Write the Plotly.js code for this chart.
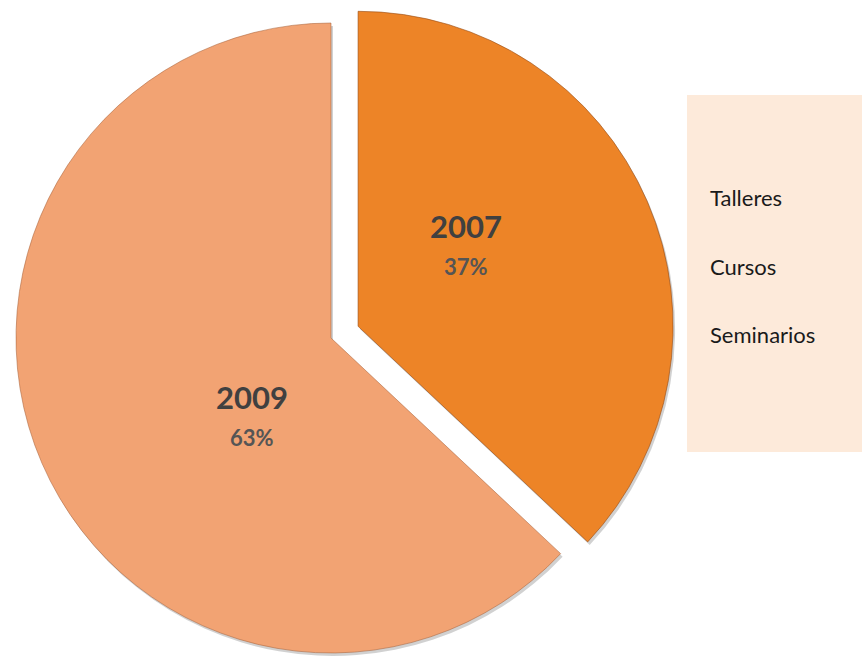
<!DOCTYPE html>
<html>
<head>
<meta charset="utf-8">
<script src="https://cdn.plot.ly/plotly-3.0.1.min.js"></script>
<style>html,body{margin:0;padding:0;background:#fff;}#chart{width:862px;height:656px;}</style>
</head>
<body>
<div id="chart"></div>
<script>
// ---- data ----
var years = ['2007', '2009'];
var shares = [37, 63];
var legendLabels = ['Talleres', 'Cursos', 'Seminarios'];
var sliceColors = ['#ED8427', '#F2A373'];

// ---- geometry (pixels) ----
var W = 862, H = 656;
var cx = 331, cy = 338, R = 315;   // centre / radius of the un-pulled slice
var pullPx = 29.5;                 // explode distance of 2007 slice

var total = shares.reduce(function(a, b){ return a + b; }, 0);
// bisector angle of first slice (clockwise from 12 o'clock)
var mid = (shares[0] / total) * Math.PI;
var cx2 = cx + pullPx * Math.sin(mid);
var cy2 = cy - pullPx * Math.cos(mid);

function dom(x, y) {
  return {
    x: [(x - R) / W, (x + R) / W],
    y: [(H - y - R) / H, (H - y + R) / H]
  };
}
function colorsFor(i, col) {
  return years.map(function(_, j){ return j === i ? col : 'rgba(0,0,0,0)'; });
}
function sliceTrace(i, x, y, col, lineCol) {
  return {
    type: 'pie',
    labels: years,
    values: shares,
    sort: false,
    direction: 'clockwise',
    rotation: 0,
    domain: dom(x, y),
    textinfo: 'none',
    hoverinfo: 'label+percent',
    marker: {
      colors: colorsFor(i, col),
      line: { color: colorsFor(i, lineCol), width: 1 }
    },
    showlegend: false
  };
}

var traces = [
  // soft shadows
  sliceTrace(1, cx + 2, cy + 3, 'rgba(0,0,0,0.18)', 'rgba(0,0,0,0)'),
  sliceTrace(0, cx2 + 2, cy2 + 3, 'rgba(0,0,0,0.18)', 'rgba(0,0,0,0)'),
  // slices
  sliceTrace(1, cx, cy, sliceColors[1], 'rgba(170,100,60,0.55)'),
  sliceTrace(0, cx2, cy2, sliceColors[0], 'rgba(150,75,20,0.6)')
];

function pct(i) { return Math.round(shares[i] / total * 100) + '%'; }

var labelPos = [ {x: 466, y: 226, py: 266}, {x: 252, y: 397, py: 437} ];
var annotations = [];
years.forEach(function(yr, i) {
  annotations.push({
    xref: 'paper', yref: 'paper', x: labelPos[i].x / W, y: 1 - labelPos[i].y / H,
    text: '<b>' + yr + '</b>', showarrow: false, xanchor: 'center', yanchor: 'middle',
    font: { family: 'Lato, sans-serif', size: 31, color: '#404040' }
  });
  annotations.push({
    xref: 'paper', yref: 'paper', x: labelPos[i].x / W, y: 1 - labelPos[i].py / H,
    text: '<b>' + pct(i) + '</b>', showarrow: false, xanchor: 'center', yanchor: 'middle',
    font: { family: 'Lato, sans-serif', size: 22, color: '#555555' }
  });
});

var legendY = [197, 266, 334];
legendLabels.forEach(function(t, i) {
  annotations.push({
    xref: 'paper', yref: 'paper', x: 708 / W, y: 1 - legendY[i] / H,
    text: t, showarrow: false, xanchor: 'left', yanchor: 'middle',
    font: { family: 'Lato, sans-serif', size: 22, color: '#1a1a1a' }
  });
});

var layout = {
  width: W, height: H,
  margin: { l: 0, r: 0, t: 0, b: 0, pad: 0 },
  paper_bgcolor: '#ffffff',
  showlegend: false,
  shapes: [{
    type: 'rect', xref: 'paper', yref: 'paper', layer: 'below',
    x0: 687 / W, x1: 1, y0: 1 - 452 / H, y1: 1 - 95 / H,
    fillcolor: '#FDEADA', line: { width: 0 }
  }],
  annotations: annotations
};

Plotly.newPlot('chart', traces, layout, { displayModeBar: false, staticPlot: true });
</script>
</body>
</html>
